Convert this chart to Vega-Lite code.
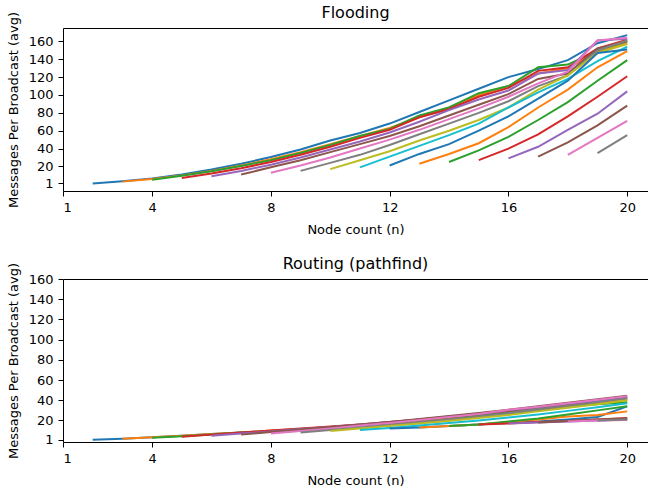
{
"$schema": "https://vega.github.io/schema/vega-lite/v6.json",
"background": "white",
"padding": {"left": 7, "top": 5, "right": 0, "bottom": 0},
"config": {
  "font": "DejaVu Sans",
  "view": {"stroke": null},
  "axis": {"labelFont": "DejaVu Sans", "labelFontSize": 13, "labelColor": "black", "titleFont": "DejaVu Sans", "titleFontSize": 13, "titleFontWeight": "normal", "titleColor": "black", "tickColor": "black", "domainColor": "black", "tickSize": 5, "labelPadding": 5, "grid": false},
  "axisX": {"titlePadding": 9},
  "axisY": {"titlePadding": 8},
  "title": {"font": "DejaVu Sans", "fontSize": 16, "fontWeight": "normal", "color": "black", "offset": -10}
},
"datasets": {
"flood": [
{"s":2,"n":2,"v":1},{"s":2,"n":3,"v":3.5},{"s":2,"n":4,"v":6.5},{"s":2,"n":5,"v":11},{"s":2,"n":6,"v":16.5},{"s":2,"n":7,"v":23},{"s":2,"n":8,"v":30.5},{"s":2,"n":9,"v":39},{"s":2,"n":10,"v":49},{"s":2,"n":11,"v":57.5},{"s":2,"n":12,"v":68},{"s":2,"n":13,"v":81},{"s":2,"n":14,"v":94},{"s":2,"n":15,"v":107},{"s":2,"n":16,"v":120},{"s":2,"n":17,"v":129},{"s":2,"n":18,"v":139},{"s":2,"n":19,"v":158},{"s":2,"n":20,"v":167},
{"s":3,"n":3,"v":3},{"s":3,"n":4,"v":6},{"s":3,"n":5,"v":10},{"s":3,"n":6,"v":15},{"s":3,"n":7,"v":21},{"s":3,"n":8,"v":28},{"s":3,"n":9,"v":36},{"s":3,"n":10,"v":45},{"s":3,"n":11,"v":54},{"s":3,"n":12,"v":63},{"s":3,"n":13,"v":75},{"s":3,"n":14,"v":86},{"s":3,"n":15,"v":100},{"s":3,"n":16,"v":110},{"s":3,"n":17,"v":124},{"s":3,"n":18,"v":130},{"s":3,"n":19,"v":148},{"s":3,"n":20,"v":158},
{"s":4,"n":4,"v":5},{"s":4,"n":5,"v":9.5},{"s":4,"n":6,"v":14.5},{"s":4,"n":7,"v":20.5},{"s":4,"n":8,"v":27},{"s":4,"n":9,"v":35},{"s":4,"n":10,"v":44},{"s":4,"n":11,"v":54},{"s":4,"n":12,"v":62},{"s":4,"n":13,"v":77},{"s":4,"n":14,"v":86},{"s":4,"n":15,"v":102},{"s":4,"n":16,"v":110},{"s":4,"n":17,"v":131},{"s":4,"n":18,"v":134},{"s":4,"n":19,"v":150},{"s":4,"n":20,"v":160},
{"s":5,"n":5,"v":7},{"s":5,"n":6,"v":12},{"s":5,"n":7,"v":18},{"s":5,"n":8,"v":25},{"s":5,"n":9,"v":33},{"s":5,"n":10,"v":42},{"s":5,"n":11,"v":52},{"s":5,"n":12,"v":61},{"s":5,"n":13,"v":75},{"s":5,"n":14,"v":84},{"s":5,"n":15,"v":98},{"s":5,"n":16,"v":108},{"s":5,"n":17,"v":127},{"s":5,"n":18,"v":131},{"s":5,"n":19,"v":152},{"s":5,"n":20,"v":162},
{"s":6,"n":6,"v":9},{"s":6,"n":7,"v":15},{"s":6,"n":8,"v":22},{"s":6,"n":9,"v":30},{"s":6,"n":10,"v":39},{"s":6,"n":11,"v":48},{"s":6,"n":12,"v":58},{"s":6,"n":13,"v":70},{"s":6,"n":14,"v":83},{"s":6,"n":15,"v":95},{"s":6,"n":16,"v":105},{"s":6,"n":17,"v":124},{"s":6,"n":18,"v":128},{"s":6,"n":19,"v":161},{"s":6,"n":20,"v":163},
{"s":7,"n":7,"v":11},{"s":7,"n":8,"v":19},{"s":7,"n":9,"v":27},{"s":7,"n":10,"v":36},{"s":7,"n":11,"v":45},{"s":7,"n":12,"v":54},{"s":7,"n":13,"v":65},{"s":7,"n":14,"v":77},{"s":7,"n":15,"v":89},{"s":7,"n":16,"v":101},{"s":7,"n":17,"v":118},{"s":7,"n":18,"v":124},{"s":7,"n":19,"v":152},{"s":7,"n":20,"v":160},
{"s":8,"n":8,"v":13},{"s":8,"n":9,"v":21},{"s":8,"n":10,"v":30},{"s":8,"n":11,"v":40},{"s":8,"n":12,"v":50},{"s":8,"n":13,"v":61},{"s":8,"n":14,"v":73},{"s":8,"n":15,"v":85},{"s":8,"n":16,"v":98},{"s":8,"n":17,"v":113},{"s":8,"n":18,"v":126},{"s":8,"n":19,"v":161},{"s":8,"n":20,"v":164},
{"s":9,"n":9,"v":15},{"s":9,"n":10,"v":24},{"s":9,"n":11,"v":33},{"s":9,"n":12,"v":44},{"s":9,"n":13,"v":56},{"s":9,"n":14,"v":68},{"s":9,"n":15,"v":80},{"s":9,"n":16,"v":93},{"s":9,"n":17,"v":110},{"s":9,"n":18,"v":122},{"s":9,"n":19,"v":150},{"s":9,"n":20,"v":161},
{"s":10,"n":10,"v":17},{"s":10,"n":11,"v":27},{"s":10,"n":12,"v":37},{"s":10,"n":13,"v":49},{"s":10,"n":14,"v":60},{"s":10,"n":15,"v":72},{"s":10,"n":16,"v":86},{"s":10,"n":17,"v":106},{"s":10,"n":18,"v":122},{"s":10,"n":19,"v":147},{"s":10,"n":20,"v":157},
{"s":11,"n":11,"v":19},{"s":11,"n":12,"v":31},{"s":11,"n":13,"v":43},{"s":11,"n":14,"v":55},{"s":11,"n":15,"v":68},{"s":11,"n":16,"v":86},{"s":11,"n":17,"v":103},{"s":11,"n":18,"v":118},{"s":11,"n":19,"v":138},{"s":11,"n":20,"v":154},
{"s":12,"n":12,"v":21},{"s":12,"n":13,"v":34},{"s":12,"n":14,"v":45},{"s":12,"n":15,"v":60},{"s":12,"n":16,"v":76},{"s":12,"n":17,"v":96},{"s":12,"n":18,"v":116},{"s":12,"n":19,"v":147},{"s":12,"n":20,"v":151},
{"s":13,"n":13,"v":23},{"s":13,"n":14,"v":34},{"s":13,"n":15,"v":46},{"s":13,"n":16,"v":64},{"s":13,"n":17,"v":86},{"s":13,"n":18,"v":106},{"s":13,"n":19,"v":131},{"s":13,"n":20,"v":149},
{"s":14,"n":14,"v":25},{"s":14,"n":15,"v":38},{"s":14,"n":16,"v":53},{"s":14,"n":17,"v":72},{"s":14,"n":18,"v":92},{"s":14,"n":19,"v":116},{"s":14,"n":20,"v":139},
{"s":15,"n":15,"v":27},{"s":15,"n":16,"v":40},{"s":15,"n":17,"v":56},{"s":15,"n":18,"v":76},{"s":15,"n":19,"v":98},{"s":15,"n":20,"v":121},
{"s":16,"n":16,"v":29},{"s":16,"n":17,"v":42},{"s":16,"n":18,"v":61},{"s":16,"n":19,"v":79},{"s":16,"n":20,"v":104},
{"s":17,"n":17,"v":31},{"s":17,"n":18,"v":47},{"s":17,"n":19,"v":66},{"s":17,"n":20,"v":88},
{"s":18,"n":18,"v":33},{"s":18,"n":19,"v":52},{"s":18,"n":20,"v":71},
{"s":19,"n":19,"v":35},{"s":19,"n":20,"v":55}
],
"route": [
{"s":2,"n":2,"v":1},{"s":2,"n":3,"v":2},{"s":2,"n":4,"v":3.5},{"s":2,"n":5,"v":5},{"s":2,"n":6,"v":6.5},{"s":2,"n":7,"v":8},{"s":2,"n":8,"v":9.5},{"s":2,"n":9,"v":11},{"s":2,"n":10,"v":13},{"s":2,"n":11,"v":15},{"s":2,"n":12,"v":17},{"s":2,"n":13,"v":19},{"s":2,"n":14,"v":21.5},{"s":2,"n":15,"v":24},{"s":2,"n":16,"v":27},{"s":2,"n":17,"v":30},{"s":2,"n":18,"v":33},{"s":2,"n":19,"v":36.5},{"s":2,"n":20,"v":41},
{"s":3,"n":3,"v":2},{"s":3,"n":4,"v":3.5},{"s":3,"n":5,"v":5},{"s":3,"n":6,"v":6.5},{"s":3,"n":7,"v":8},{"s":3,"n":8,"v":10},{"s":3,"n":9,"v":11.5},{"s":3,"n":10,"v":13.5},{"s":3,"n":11,"v":15.5},{"s":3,"n":12,"v":17.5},{"s":3,"n":13,"v":20},{"s":3,"n":14,"v":22.5},{"s":3,"n":15,"v":25},{"s":3,"n":16,"v":28},{"s":3,"n":17,"v":31},{"s":3,"n":18,"v":34},{"s":3,"n":19,"v":37},{"s":3,"n":20,"v":40},
{"s":4,"n":4,"v":3},{"s":4,"n":5,"v":4.5},{"s":4,"n":6,"v":6},{"s":4,"n":7,"v":8},{"s":4,"n":8,"v":9.5},{"s":4,"n":9,"v":11.5},{"s":4,"n":10,"v":13.5},{"s":4,"n":11,"v":15.5},{"s":4,"n":12,"v":18},{"s":4,"n":13,"v":20.5},{"s":4,"n":14,"v":23},{"s":4,"n":15,"v":25.5},{"s":4,"n":16,"v":28.5},{"s":4,"n":17,"v":31.5},{"s":4,"n":18,"v":34.5},{"s":4,"n":19,"v":36},{"s":4,"n":20,"v":38},
{"s":5,"n":5,"v":4},{"s":5,"n":6,"v":6},{"s":5,"n":7,"v":8},{"s":5,"n":8,"v":10},{"s":5,"n":9,"v":12},{"s":5,"n":10,"v":14},{"s":5,"n":11,"v":16},{"s":5,"n":12,"v":18.5},{"s":5,"n":13,"v":21},{"s":5,"n":14,"v":23.5},{"s":5,"n":15,"v":26.5},{"s":5,"n":16,"v":29.5},{"s":5,"n":17,"v":33},{"s":5,"n":18,"v":36},{"s":5,"n":19,"v":39.5},{"s":5,"n":20,"v":43},
{"s":6,"n":6,"v":5},{"s":6,"n":7,"v":7},{"s":6,"n":8,"v":9},{"s":6,"n":9,"v":11.5},{"s":6,"n":10,"v":13.5},{"s":6,"n":11,"v":16},{"s":6,"n":12,"v":18.5},{"s":6,"n":13,"v":21},{"s":6,"n":14,"v":24},{"s":6,"n":15,"v":26.5},{"s":6,"n":16,"v":30},{"s":6,"n":17,"v":33},{"s":6,"n":18,"v":36.5},{"s":6,"n":19,"v":39.5},{"s":6,"n":20,"v":42},
{"s":7,"n":7,"v":6},{"s":7,"n":8,"v":8.5},{"s":7,"n":9,"v":11},{"s":7,"n":10,"v":13.5},{"s":7,"n":11,"v":16},{"s":7,"n":12,"v":18.5},{"s":7,"n":13,"v":21.5},{"s":7,"n":14,"v":24.5},{"s":7,"n":15,"v":27.5},{"s":7,"n":16,"v":30.5},{"s":7,"n":17,"v":34},{"s":7,"n":18,"v":37.5},{"s":7,"n":19,"v":41},{"s":7,"n":20,"v":44.5},
{"s":8,"n":8,"v":7},{"s":8,"n":9,"v":9.5},{"s":8,"n":10,"v":12},{"s":8,"n":11,"v":15},{"s":8,"n":12,"v":17.5},{"s":8,"n":13,"v":20.5},{"s":8,"n":14,"v":23.5},{"s":8,"n":15,"v":26.5},{"s":8,"n":16,"v":30.5},{"s":8,"n":17,"v":33.5},{"s":8,"n":18,"v":37},{"s":8,"n":19,"v":40.5},{"s":8,"n":20,"v":44},
{"s":9,"n":9,"v":8},{"s":9,"n":10,"v":10.5},{"s":9,"n":11,"v":13},{"s":9,"n":12,"v":15.5},{"s":9,"n":13,"v":18},{"s":9,"n":14,"v":21},{"s":9,"n":15,"v":24},{"s":9,"n":16,"v":27.5},{"s":9,"n":17,"v":31},{"s":9,"n":18,"v":34.5},{"s":9,"n":19,"v":38},{"s":9,"n":20,"v":42},
{"s":10,"n":10,"v":9.5},{"s":10,"n":11,"v":12},{"s":10,"n":12,"v":14.5},{"s":10,"n":13,"v":17},{"s":10,"n":14,"v":19.5},{"s":10,"n":15,"v":22.5},{"s":10,"n":16,"v":25.5},{"s":10,"n":17,"v":29},{"s":10,"n":18,"v":32.5},{"s":10,"n":19,"v":36},{"s":10,"n":20,"v":40},
{"s":11,"n":11,"v":10.5},{"s":11,"n":12,"v":12.5},{"s":11,"n":13,"v":15},{"s":11,"n":14,"v":17.5},{"s":11,"n":15,"v":20},{"s":11,"n":16,"v":23},{"s":11,"n":17,"v":26},{"s":11,"n":18,"v":29.5},{"s":11,"n":19,"v":33},{"s":11,"n":20,"v":37},
{"s":12,"n":12,"v":12},{"s":12,"n":13,"v":13},{"s":12,"n":14,"v":14.5},{"s":12,"n":15,"v":16},{"s":12,"n":16,"v":17.5},{"s":12,"n":17,"v":19},{"s":12,"n":18,"v":21},{"s":12,"n":19,"v":23.5},{"s":12,"n":20,"v":34},
{"s":13,"n":13,"v":13},{"s":13,"n":14,"v":14.5},{"s":13,"n":15,"v":16},{"s":13,"n":16,"v":18.5},{"s":13,"n":17,"v":21},{"s":13,"n":18,"v":24},{"s":13,"n":19,"v":25.5},{"s":13,"n":20,"v":29},
{"s":14,"n":14,"v":14.5},{"s":14,"n":15,"v":16},{"s":14,"n":16,"v":19},{"s":14,"n":17,"v":22},{"s":14,"n":18,"v":26},{"s":14,"n":19,"v":30},{"s":14,"n":20,"v":34},
{"s":15,"n":15,"v":16},{"s":15,"n":16,"v":17},{"s":15,"n":17,"v":18.5},{"s":15,"n":18,"v":19.5},{"s":15,"n":19,"v":21},{"s":15,"n":20,"v":22.5},
{"s":16,"n":16,"v":17},{"s":16,"n":17,"v":18},{"s":16,"n":18,"v":19},{"s":16,"n":19,"v":20},{"s":16,"n":20,"v":21},
{"s":17,"n":17,"v":18},{"s":17,"n":18,"v":19.5},{"s":17,"n":19,"v":21},{"s":17,"n":20,"v":22},
{"s":18,"n":18,"v":19},{"s":18,"n":19,"v":20},{"s":18,"n":20,"v":20.5},
{"s":19,"n":19,"v":20},{"s":19,"n":20,"v":21}
]
},
"spacing": 20,
"vconcat": [
{
  "title": "Flooding",
  "width": 585, "height": 163,
  "data": {"name": "flood"},
  "encoding": {
    "x": {"field": "n", "type": "quantitative", "scale": {"domain": [1, 20.7], "nice": false, "zero": false}, "axis": {"values": [1,4,8,12,16,20], "title": "Node count (n)"}},
    "y": {"field": "v", "type": "quantitative", "scale": {"domain": [-7.5, 175], "nice": false, "zero": false}, "axis": {"values": [1,20,40,60,80,100,120,140,160], "title": "Messages Per Broadcast (avg)"}},
    "color": {"field": "s", "type": "nominal", "scale": {"domain": [2,3,4,5,6,7,8,9,10,11,12,13,14,15,16,17,18,19], "range": ["#1f77b4","#ff7f0e","#2ca02c","#d62728","#9467bd","#8c564b","#e377c2","#7f7f7f","#bcbd22","#17becf","#1f77b4","#ff7f0e","#2ca02c","#d62728","#9467bd","#8c564b","#e377c2","#7f7f7f"]}, "legend": null}
  },
  "layer": [
    {"mark": {"type": "line", "strokeWidth": 2, "clip": true}},
    {"mark": {"type": "line", "opacity": 0}, "encoding": {"x": {"field": "n", "type": "quantitative", "scale": {"domain": [1, 20.7], "nice": false, "zero": false}, "axis": {"orient": "top", "labels": false, "ticks": false, "title": null, "domain": true, "minExtent": 0, "maxExtent": 0, "offset": 0}}}}
  ],
  "resolve": {"axis": {"x": "independent"}}
},
{
  "title": "Routing (pathfind)",
  "width": 585, "height": 163,
  "data": {"name": "route"},
  "encoding": {
    "x": {"field": "n", "type": "quantitative", "scale": {"domain": [1, 20.7], "nice": false, "zero": false}, "axis": {"values": [1,4,8,12,16,20], "title": "Node count (n)"}},
    "y": {"field": "v", "type": "quantitative", "scale": {"domain": [-1.3, 160], "nice": false, "zero": false}, "axis": {"values": [1,20,40,60,80,100,120,140,160], "title": "Messages Per Broadcast (avg)"}},
    "color": {"field": "s", "type": "nominal", "scale": {"domain": [2,3,4,5,6,7,8,9,10,11,12,13,14,15,16,17,18,19], "range": ["#1f77b4","#ff7f0e","#2ca02c","#d62728","#9467bd","#8c564b","#e377c2","#7f7f7f","#bcbd22","#17becf","#1f77b4","#ff7f0e","#2ca02c","#d62728","#9467bd","#8c564b","#e377c2","#7f7f7f"]}, "legend": null}
  },
  "layer": [
    {"mark": {"type": "line", "strokeWidth": 2, "clip": true}},
    {"mark": {"type": "line", "opacity": 0}, "encoding": {"x": {"field": "n", "type": "quantitative", "scale": {"domain": [1, 20.7], "nice": false, "zero": false}, "axis": {"orient": "top", "labels": false, "ticks": false, "title": null, "domain": true, "minExtent": 0, "maxExtent": 0, "offset": 0}}}}
  ],
  "resolve": {"axis": {"x": "independent"}}
}
],
"resolve": {"scale": {"color": "independent"}}
}
